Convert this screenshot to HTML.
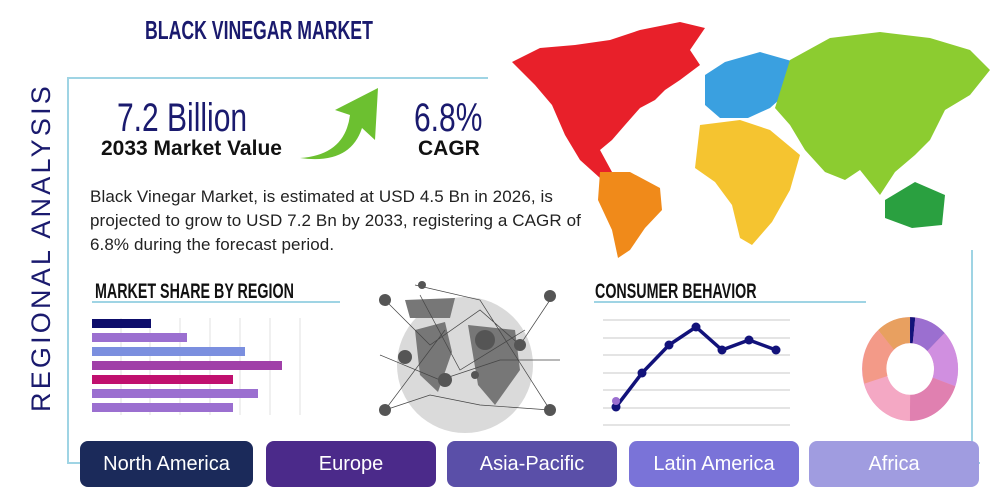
<!DOCTYPE html>
<html><head><meta charset="utf-8"><style>
body{margin:0;width:1000px;height:500px;background:#fff;position:relative;overflow:hidden;font-family:"Liberation Sans",sans-serif}
.a{position:absolute;white-space:nowrap}
.cond{display:inline-block;transform:scaleX(.68);transform-origin:left center}
.btn{position:absolute;top:441px;height:46px;border-radius:8px;color:#fff;font-size:20px;text-align:center;line-height:46px}
</style></head><body>
<svg class="a" style="left:0;top:0" width="1000" height="500">
<polyline points="488,78 68,78 68,463 80,463" fill="none" stroke="#9fd4e4" stroke-width="2"/>
<line x1="972" y1="250" x2="972" y2="463" stroke="#9fd4e4" stroke-width="2"/>
<line x1="960" y1="463" x2="980" y2="463" stroke="#9fd4e4" stroke-width="2"/>
<path d="M512,62 L540,48 L575,45 L610,40 L640,30 L680,22 L705,28 L690,50 L700,65 L680,80 L665,90 L655,100 L640,108 L625,125 L612,140 L600,150 L612,172 L600,178 L580,160 L565,135 L552,105 L535,85 Z" fill="#e8202a"/>
<path d="M600,172 L630,172 L660,188 L662,210 L645,228 L630,250 L618,258 L612,230 L598,200 Z" fill="#f08a1a"/>
<path d="M705,75 L725,62 L760,52 L795,62 L790,90 L770,108 L748,118 L720,118 L705,105 Z" fill="#3aa0e0"/>
<path d="M790,60 L830,38 L880,32 L930,38 L970,50 L990,70 L970,95 L945,110 L930,140 L915,155 L895,172 L880,195 L860,170 L845,180 L825,172 L805,150 L790,125 L775,108 Z" fill="#8ccc30"/>
<path d="M700,125 L740,120 L770,130 L800,155 L790,190 L772,222 L752,245 L740,238 L732,205 L715,182 L695,168 Z" fill="#f5c430"/>
<path d="M885,200 L915,182 L945,195 L942,225 L912,228 L885,218 Z" fill="#2aa040"/>
<path d="M300,158 Q345,155 350,115 L335,110 L378,88 L375,140 L362,128 Q350,165 300,158 Z" fill="#6cc030"/>
<line x1="92" y1="302" x2="340" y2="302" stroke="#9fd4e4" stroke-width="2"/>
<line x1="594" y1="302" x2="866" y2="302" stroke="#9fd4e4" stroke-width="2"/>
<g stroke="#e2e2e2" stroke-width="1">
<line x1="121" y1="318" x2="121" y2="415"/><line x1="150" y1="318" x2="150" y2="415"/><line x1="180" y1="318" x2="180" y2="415"/><line x1="210" y1="318" x2="210" y2="415"/><line x1="240" y1="318" x2="240" y2="415"/><line x1="270" y1="318" x2="270" y2="415"/><line x1="300" y1="318" x2="300" y2="415"/>
</g>
<rect x="92" y="319" width="59" height="9" fill="#0d0d6b"/>
<rect x="92" y="333" width="95" height="9" fill="#9b6fd0"/>
<rect x="92" y="347" width="153" height="9" fill="#7b8fdf"/>
<rect x="92" y="361" width="190" height="9" fill="#a040a8"/>
<rect x="92" y="375" width="141" height="9" fill="#c0106f"/>
<rect x="92" y="389" width="166" height="9" fill="#9b6fd0"/>
<rect x="92" y="403" width="141" height="9" fill="#9b6fd0"/>
<circle cx="465" cy="365" r="68" fill="#dadada"/>
<path d="M415,330 L445,322 L452,352 L438,392 L420,375 Z M468,325 L515,330 L520,370 L495,405 L478,385 Z M405,300 L455,298 L450,318 L410,318 Z" fill="#777"/>
<g stroke="#444" stroke-width=".7" fill="none">
<path d="M385,300 L430,345 L480,310 L520,345 L550,300 M385,410 L430,395 L480,405 L550,410 M380,355 L440,380 L500,360 L560,360 M420,295 L460,370 L525,330 M415,285 L480,300 L550,410 M445,330 L385,410"/>
</g>
<g fill="#555"><circle cx="385" cy="300" r="6"/><circle cx="550" cy="296" r="6"/><circle cx="385" cy="410" r="6"/><circle cx="550" cy="410" r="6"/><circle cx="405" cy="357" r="7"/><circle cx="485" cy="340" r="10"/><circle cx="445" cy="380" r="7"/><circle cx="520" cy="345" r="6"/><circle cx="422" cy="285" r="4"/><circle cx="475" cy="375" r="4"/></g>
<g stroke="#dcdcdc" stroke-width="1.5">
<line x1="603" y1="320" x2="790" y2="320"/><line x1="603" y1="338" x2="790" y2="338"/><line x1="603" y1="355" x2="790" y2="355"/><line x1="603" y1="373" x2="790" y2="373"/><line x1="603" y1="390" x2="790" y2="390"/><line x1="603" y1="408" x2="790" y2="408"/><line x1="603" y1="425" x2="790" y2="425"/>
</g>
<polyline points="616,407 642,373 669,345 696,327 722,350 749,340 776,350" fill="none" stroke="#12127a" stroke-width="3.5"/>
<g fill="#12127a"><circle cx="616" cy="407" r="4.5"/><circle cx="642" cy="373" r="4.5"/><circle cx="669" cy="345" r="4.5"/><circle cx="696" cy="327" r="4.5"/><circle cx="722" cy="350" r="4.5"/><circle cx="749" cy="340" r="4.5"/><circle cx="776" cy="350" r="4.5"/></g>
<circle cx="616" cy="401" r="4" fill="#9b6fd0"/>
<g transform="translate(910,369) scale(1,1.08)" fill="none" stroke-width="24">
<circle r="36" stroke="#f4a0c0"/>
<path d="M0,-36 A36,36 0 0,1 4,-35.8" stroke="#12127a"/>
<path d="M4,-35.8 A36,36 0 0,1 26,-25" stroke="#9b6fd0"/>
<path d="M26,-25 A36,36 0 0,1 34,12" stroke="#d08fe0"/>
<path d="M34,12 A36,36 0 0,1 0,36" stroke="#e080b0"/>
<path d="M0,36 A36,36 0 0,1 -34,10" stroke="#f4a8c4"/>
<path d="M-34,10 A36,36 0 0,1 -24,-27" stroke="#f39a88"/>
<path d="M-24,-27 A36,36 0 0,1 0,-36" stroke="#e8a060"/>
</g>
</svg>
<div class="a" style="left:145px;top:15px;font-size:26px;font-weight:bold;color:#1a1a6e;"><span class="cond">BLACK VINEGAR MARKET</span></div>
<div class="a" style="left:26px;top:412px;transform:rotate(-90deg);transform-origin:left top;font-size:27px;color:#1a1a6e;letter-spacing:3.2px">REGIONAL ANALYSIS</div>
<div class="a" style="left:117px;top:96px;font-size:40px;color:#1a1a6e"><span class="cond" style="transform:scaleX(.75)">7.2 Billion</span></div>
<div class="a" style="left:101px;top:137px;font-size:21px;font-weight:bold;color:#111">2033 Market Value</div>
<div class="a" style="left:414px;top:96px;font-size:40px;color:#1a1a6e"><span class="cond" style="transform:scaleX(.75)">6.8%</span></div>
<div class="a" style="left:418px;top:137px;font-size:21px;font-weight:bold;color:#111">CAGR</div>
<div class="a" style="left:90px;top:185px;font-size:17px;letter-spacing:.1px;line-height:24px;color:#222">Black Vinegar Market, is estimated at USD 4.5 Bn in 2026, is<br>projected to grow to USD 7.2 Bn by 2033, registering a CAGR of<br>6.8% during the forecast period.</div>
<div class="a" style="left:95px;top:280px;font-size:21px;font-weight:bold;color:#111"><span class="cond">MARKET SHARE BY REGION</span></div>
<div class="a" style="left:595px;top:280px;font-size:21px;font-weight:bold;color:#111"><span class="cond">CONSUMER BEHAVIOR</span></div>
<div class="btn" style="left:80px;width:173px;background:#1b2a5a">North America</div>
<div class="btn" style="left:266px;width:170px;background:#4b2a8a">Europe</div>
<div class="btn" style="left:447px;width:170px;background:#5a4fa8">Asia-Pacific</div>
<div class="btn" style="left:629px;width:170px;background:#7a73d8">Latin America</div>
<div class="btn" style="left:809px;width:170px;background:#a09ce0">Africa</div>
</body></html>
